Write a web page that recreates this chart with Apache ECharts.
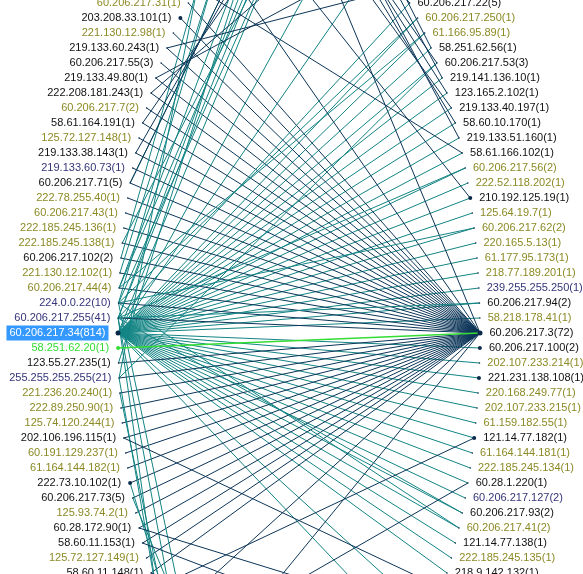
<!DOCTYPE html>
<html><head><meta charset="utf-8">
<script src="https://cdn.jsdelivr.net/npm/echarts@6/dist/echarts.min.js"></script>
<style>html,body{margin:0;background:#fff}#c{width:583px;height:574px}</style>
</head><body><div id="c"></div>
<script>
// 左側節點 (上到下)，色碼: k=黑 o=橄欖 n=深藍 g=綠 s=選取
const leftNodes = [
  ['60.206.217.31(1)','o'],['203.208.33.101(1)','k'],['221.130.12.98(1)','o'],['219.133.60.243(1)','k'],
  ['60.206.217.55(3)','k'],['219.133.49.80(1)','k'],['222.208.181.243(1)','k'],['60.206.217.7(2)','o'],
  ['58.61.164.191(1)','k'],['125.72.127.148(1)','o'],['219.133.38.143(1)','k'],['219.133.60.73(1)','n'],
  ['60.206.217.71(5)','k'],['222.78.255.40(1)','o'],['60.206.217.43(1)','o'],['222.185.245.136(1)','o'],
  ['222.185.245.138(1)','o'],['60.206.217.102(2)','k'],['221.130.12.102(1)','o'],['60.206.217.44(4)','o'],
  ['224.0.0.22(10)','n'],['60.206.217.255(41)','n'],['60.206.217.34(814)','s'],['58.251.62.20(1)','g'],
  ['123.55.27.235(1)','k'],['255.255.255.255(21)','n'],['221.236.20.240(1)','o'],['222.89.250.90(1)','o'],
  ['125.74.120.244(1)','o'],['202.106.196.115(1)','k'],['60.191.129.237(1)','o'],['61.164.144.182(1)','o'],
  ['222.73.10.102(1)','k'],['60.206.217.73(5)','k'],['125.93.74.2(1)','o'],['60.28.172.90(1)','k'],
  ['58.60.11.153(1)','k'],['125.72.127.149(1)','o'],['58.60.11.148(1)','k']
];
const rightNodes = [
  ['60.206.217.22(5)','k'],['60.206.217.250(1)','o'],['61.166.95.89(1)','o'],['58.251.62.56(1)','k'],
  ['60.206.217.53(3)','k'],['219.141.136.10(1)','k'],['123.165.2.102(1)','k'],['219.133.40.197(1)','k'],
  ['58.60.10.170(1)','k'],['219.133.51.160(1)','k'],['58.61.166.102(1)','k'],['60.206.217.56(2)','o'],
  ['222.52.118.202(1)','o'],['210.192.125.19(1)','k'],['125.64.19.7(1)','o'],['60.206.217.62(2)','o'],
  ['220.165.5.13(1)','o'],['61.177.95.173(1)','o'],['218.77.189.201(1)','o'],['239.255.255.250(1)','n'],
  ['60.206.217.94(2)','k'],['58.218.178.41(1)','o'],['60.206.217.3(72)','k'],['60.206.217.100(2)','k'],
  ['202.107.233.214(1)','o'],['221.231.138.108(1)','k'],['220.168.249.77(1)','o'],['202.107.233.215(1)','o'],
  ['61.159.182.55(1)','o'],['121.14.77.182(1)','k'],['61.164.144.181(1)','o'],['222.185.245.134(1)','o'],
  ['60.28.1.220(1)','k'],['60.206.217.127(2)','n'],['60.206.217.93(2)','k'],['60.206.217.41(2)','o'],
  ['121.14.77.138(1)','k'],['222.185.245.135(1)','o'],['218.9.142.132(1)','k']
];
// 畫面外的節點 (圓的上下延伸部分)
const leftTopHidden = ['LT1','LT2','LT3','LT4','LT5','LT6'];
const leftBottomHidden = ['LB1','LB2','LB3','LB4','LB5'];
const rightTopHidden = ['RT1','RT2','RT3','RT4','RT5','RT6'];
const rightBottomHidden = ['RB1','RB2','RB3','RB4','RB5'];
// 畫面上看得到圓點的節點
const dotNodes = ['203.208.33.101(1)','222.73.10.102(1)','210.192.125.19(1)','121.14.77.182(1)',
  '60.206.217.100(2)','221.231.138.108(1)','58.251.62.20(1)'];

const leftHub = '60.206.217.34(814)';
const rightHub = '60.206.217.3(72)';
const greenLink = ['58.251.62.20(1)', rightHub];
// 左 hub 連到右側 (teal)
const leftHubTargets = rightNodes.slice(1).map(d => d[0]).filter(n => n !== rightHub)
  .concat(['RT2','RT3','RT4','RB2','RB3']);
// 右 hub 連到左側 (深藍)
const rightHubTargets = leftNodes.map(d => d[0]).filter(n => n !== leftHub && n !== '58.251.62.20(1)')
  .concat(['LT2','LT4','LB2','LB4']);
// 左側群集往畫面外 (teal)
const leftClusterLinks = [
  ['60.206.217.102(2)','LT1'],['221.130.12.102(1)','LT2'],['60.206.217.44(4)','LT3'],['224.0.0.22(10)','LT4'],
  ['60.206.217.255(41)','LT5'],['60.206.217.255(41)','LT6'],['255.255.255.255(21)','LT1'],['123.55.27.235(1)','LT3'],
  ['224.0.0.22(10)','LT2'],['60.206.217.44(4)','LT5'],['60.206.217.71(5)','LT6'],['222.185.245.138(1)','LT4'],
  ['255.255.255.255(21)','LB1'],['221.236.20.240(1)','LB2'],['60.206.217.255(41)','LB3'],['224.0.0.22(10)','LB4'],
  ['60.206.217.73(5)','LB5'],['222.73.10.102(1)','LB3'],['60.206.217.255(41)','LB1'],
  ['60.206.217.255(41)','60.206.217.22(5)'],['224.0.0.22(10)','60.206.217.250(1)'],['60.206.217.44(4)','61.166.95.89(1)'],
  ['255.255.255.255(21)','60.206.217.53(3)'],['60.206.217.255(41)','60.206.217.56(2)'],['224.0.0.22(10)','60.206.217.62(2)'],
  ['60.206.217.255(41)','60.206.217.94(2)'],['224.0.0.22(10)','60.206.217.41(2)'],['60.206.217.255(41)','60.206.217.93(2)']
];
// 上方畫面外往左右 (深藍)
const darkLinks = [
  ['RT1','219.133.60.243(1)'],['RT2','219.133.49.80(1)'],['RT3','222.208.181.243(1)'],['RT4','58.61.164.191(1)'],
  ['RT5','219.133.38.143(1)'],['RT6','60.206.217.71(5)'],['RT1','58.251.62.56(1)'],['RT2','219.141.136.10(1)'],
  ['RT3','123.165.2.102(1)'],['RT4','219.133.40.197(1)'],['RT5','58.60.10.170(1)'],['RT6','219.133.51.160(1)'],
  ['LT1','58.61.166.102(1)'],['LT3','210.192.125.19(1)'],['LB1','121.14.77.182(1)'],['LB3','60.28.1.220(1)'],
  ['RB1','202.106.196.115(1)'],['RB2','60.28.172.90(1)'],['RB3','58.60.11.153(1)'],['RB4','58.60.11.148(1)'],
  ['60.206.217.22(5)','LT5'],['60.206.217.53(3)','RT3']
];

const colorMap = { k: '#111111', o: '#8c8a25', n: '#35357a', g: '#33dd33', s: '#ffffff' };
const cx = 299, cy = 333, a = 181, b = 417, step = 15;

function pos(side, i) {
  const y = cy + (i - 22) * step;
  const t = Math.min(1, Math.abs(y - cy) / b);
  const dx = a * Math.sqrt(1 - t * t);
  return [side === 'L' ? cx - dx : cx + dx, y];
}

const nodes = [];
leftNodes.forEach((d, i) => nodes.push({ name: d[0], value: pos('L', i), side: 'L', c: d[1] }));
rightNodes.forEach((d, i) => nodes.push({ name: d[0], value: pos('R', i), side: 'R', c: d[1] }));
leftTopHidden.forEach((n, k) => nodes.push({ name: n, value: pos('L', -1 - k * 2), hidden: true }));
leftBottomHidden.forEach((n, k) => nodes.push({ name: n, value: pos('L', 39 + k * 2), hidden: true }));
rightTopHidden.forEach((n, k) => nodes.push({ name: n, value: pos('R', -1 - k * 2), hidden: true }));
rightBottomHidden.forEach((n, k) => nodes.push({ name: n, value: pos('R', 39 + k * 2), hidden: true }));

const graphNodes = nodes.map(n => {
  if (n.hidden) return { name: n.name, value: n.value, label: { show: false } };
  const sel = n.c === 's';
  const hub = n.name === leftHub || n.name === rightHub;
  return {
    name: n.name, value: n.value,
    symbolSize: hub ? 5 : (dotNodes.includes(n.name) ? 4 : 1.5),
    itemStyle: { color: n.c === 'g' ? '#33dd33' : '#0a2a4a' },
    label: {
      show: true,
      position: n.side === 'L' ? 'left' : 'right',
      distance: 7,
      color: colorMap[n.c],
      backgroundColor: sel ? '#3399ff' : 'transparent',
      padding: sel ? [2, 3] : 0
    }
  };
});

const TEAL = '#138484', DARK = '#0c3558';
const links = [];
leftHubTargets.forEach(t => links.push({ source: leftHub, target: t, lineStyle: { color: TEAL } }));
rightHubTargets.forEach(t => links.push({ source: rightHub, target: t, lineStyle: { color: DARK } }));
leftClusterLinks.forEach(l => links.push({ source: l[0], target: l[1], lineStyle: { color: TEAL } }));
darkLinks.forEach(l => links.push({ source: l[0], target: l[1], lineStyle: { color: DARK } }));
links.push({ source: greenLink[0], target: greenLink[1], lineStyle: { color: '#33dd33', width: 1.5 } });

const chart = echarts.init(document.getElementById('c'));
chart.setOption({
  animation: false,
  grid: { left: 0, right: 0, top: 0, bottom: 0 },
  xAxis: { type: 'value', min: 0, max: 583, show: false },
  yAxis: { type: 'value', min: 0, max: 574, inverse: true, show: false },
  series: [{
    type: 'graph',
    coordinateSystem: 'cartesian2d',
    symbol: 'circle',
    symbolSize: 4,
    label: { fontFamily: 'Liberation Sans', fontSize: 11 },
    lineStyle: { width: 1, opacity: 1 },
    data: graphNodes,
    links: links
  }]
});
</script>
</body></html>
